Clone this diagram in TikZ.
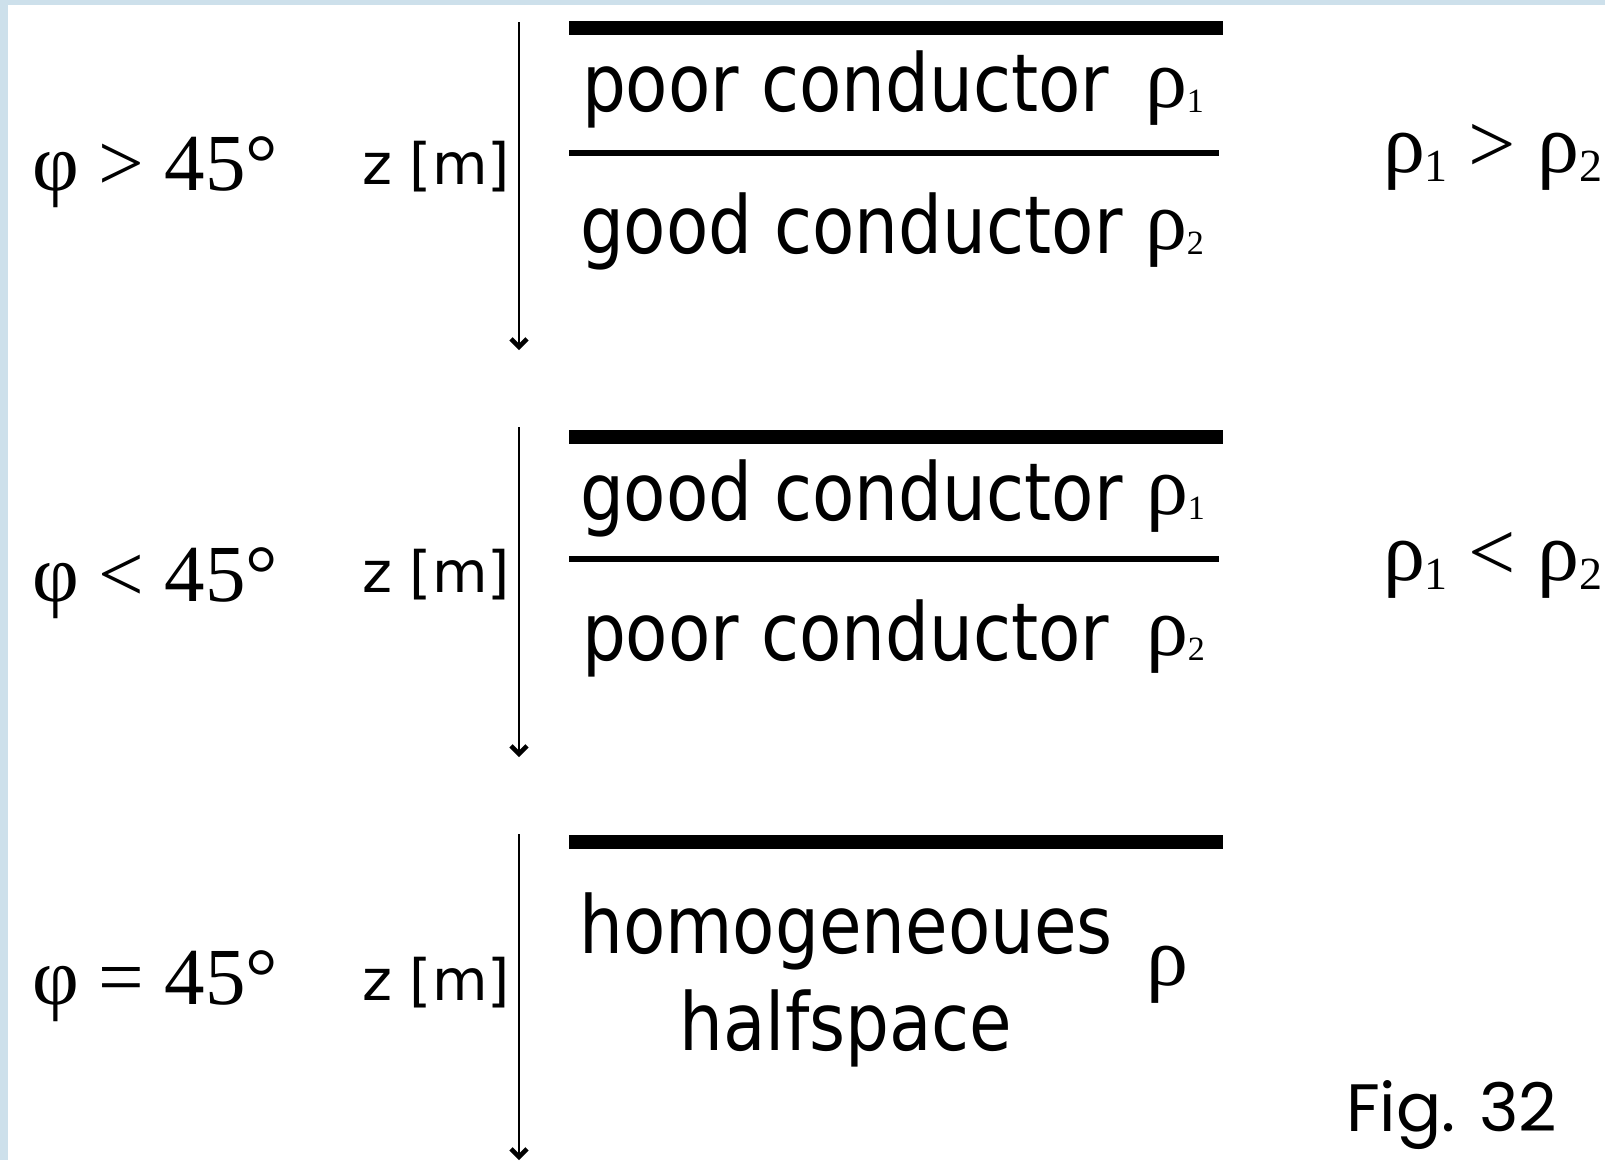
\documentclass[tikz,border=0pt]{standalone}
\usepackage{fontspec}
\setmainfont{Liberation Serif}
\newfontfamily\condfont{DejaVu Sans}
\newfontfamily\figfont{Poppins}
\usetikzlibrary{arrows.meta}
\definecolor{bandblue}{RGB}{205,224,235}
\newcommand{\condtxt}[1]{\scalebox{0.865}[1]{\condfont\fontsize{80}{96}\selectfont #1}}
\newcommand{\rhos}[1]{{\fontsize{84}{96}\selectfont ρ}\raisebox{-5pt}{\fontsize{34}{40}\selectfont #1}}
\newcommand{\rhor}[1]{{\fontsize{84}{96}\selectfont ρ}\raisebox{-9pt}{\fontsize{46}{50}\selectfont #1}}
\newcommand{\rhoc}{{\fontsize{84}{96}\selectfont ρ}}
\begin{document}
\begin{tikzpicture}[x=1pt,y=-1pt,
  txt/.style={anchor=base west, inner sep=0pt, outer sep=0pt},
  ctr/.style={anchor=base, inner sep=0pt, outer sep=0pt},
  phil/.style={txt, font=\fontsize{81}{96}\selectfont},
  zlab/.style={txt, font=\condfont\fontsize{57}{66}\selectfont},
  rel/.style={txt, font=\fontsize{84}{96}\selectfont},
  bar/.style={line width=14pt},
  iface/.style={line width=6pt},
  zaxis/.style={line width=2pt, -{Straight Barb[length=8pt,width=16pt,line width=4.5pt]}},
]
\useasboundingbox (0,0) rectangle (1605,1160);
\fill[white] (0,0) rectangle (1605,1160);
\fill[bandblue] (0,0) rectangle (1605,5);
\fill[bandblue] (0,0) rectangle (8,1160);

% ---- Row 1
\coordinate (b1l) at (569,28); \coordinate (b1r) at (1223,28);
\draw[bar] (b1l) -- (b1r);
\coordinate (i1l) at (569,153); \coordinate (i1r) at (1219,153);
\draw[iface] (i1l) -- (i1r);
\node[txt] (t1a) at (582,111) {\condtxt{poor conductor}};
\node[txt] (r1a) at (1145,107) {\rhos{1}};
\node[txt] (t1b) at (580,253) {\condtxt{good conductor}};
\node[txt] (r1b) at (1145,249) {\rhos{2}};
\coordinate (z1s) at (519,22); \coordinate (z1e) at (519,350);
\draw[zaxis] (z1s) -- (z1e);
\node[phil] (p1) at (32,190) {φ > 45°};
\node[zlab] (z1) at (362,184) {z [m]};
\node[rel] (c1) at (1383,172) {\rhor{1} > \rhor{2}};

% ---- Row 2
\coordinate (b2l) at (569,437); \coordinate (b2r) at (1223,437);
\draw[bar] (b2l) -- (b2r);
\coordinate (i2l) at (569,559); \coordinate (i2r) at (1219,559);
\draw[iface] (i2l) -- (i2r);
\node[txt] (t2a) at (580,520) {\condtxt{good conductor}};
\node[txt] (r2a) at (1146,514) {\rhos{1}};
\node[txt] (t2b) at (582,660) {\condtxt{poor conductor}};
\node[txt] (r2b) at (1146,655) {\rhos{2}};
\coordinate (z2s) at (519,427); \coordinate (z2e) at (519,757);
\draw[zaxis] (z2s) -- (z2e);
\node[phil] (p2) at (32,601) {φ < 45°};
\node[zlab] (z2) at (362,592) {z [m]};
\node[rel] (c2) at (1383,580) {\rhor{1} < \rhor{2}};

% ---- Row 3
\coordinate (b3l) at (569,842); \coordinate (b3r) at (1223,842);
\draw[bar] (b3l) -- (b3r);
\node[ctr] (t3a) at (846,953) {\condtxt{homogeneoues}};
\node[ctr] (t3b) at (846,1050) {\condtxt{halfspace}};
\node[txt] (r3) at (1146,985) {\rhoc};
\coordinate (z3s) at (519,834); \coordinate (z3e) at (519,1160);
\draw[zaxis] (z3s) -- (z3e);
\node[phil] (p3) at (32,1004) {φ = 45°};
\node[zlab] (z3) at (362,1000) {z [m]};

\node[txt, font=\figfont\fontsize{67}{80}\selectfont] (fig) at (1346,1131) {Fig. 32};
\end{tikzpicture}
\end{document}
